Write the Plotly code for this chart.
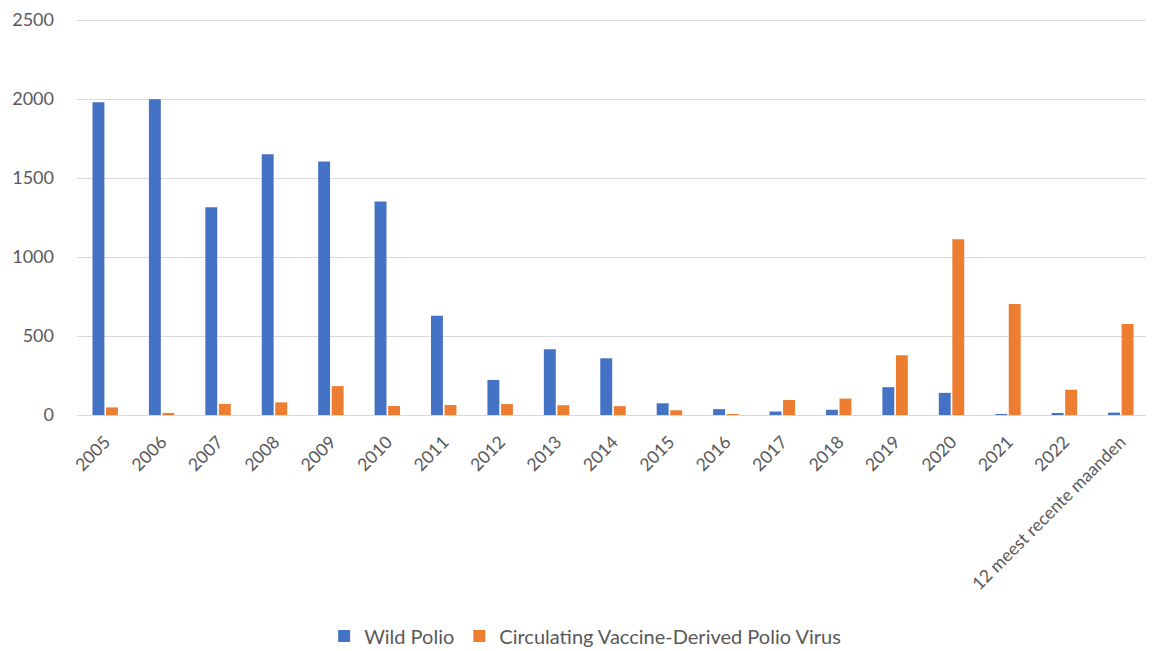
import plotly.graph_objects as go

categories = ["2005", "2006", "2007", "2008", "2009", "2010", "2011", "2012", "2013",
              "2014", "2015", "2016", "2017", "2018", "2019", "2020", "2021", "2022",
              "12 meest recente maanden"]
wild_polio = [1979, 1998, 1315, 1651, 1604, 1352, 628, 222, 416,
              359, 74, 37, 22, 33, 176, 140, 5, 12, 15]
cvdpv = [48, 13, 70, 80, 183, 57, 63, 69, 62,
         56, 30, 2, 95, 104, 378, 1112, 703, 160, 576]
y_ticks = [0, 500, 1000, 1500, 2000, 2500]

fig = go.Figure()
fig.add_trace(go.Bar(x=categories, y=wild_polio, name="Wild Polio",
                     marker=dict(color="#4472C4", line=dict(width=0))))
fig.add_trace(go.Bar(x=categories, y=cvdpv, name="Circulating Vaccine-Derived Polio Virus",
                     marker=dict(color="#ED7D31", line=dict(width=0))))

# page body has an 8px default margin, so the figure is sized to fit the window
fig.update_layout(
    width=1146, height=643,
    margin=dict(l=69, r=5, t=9, b=236, autoexpand=False),
    paper_bgcolor="white", plot_bgcolor="white",
    barmode="group", bargap=0.52, bargroupgap=0.12,
    font=dict(family="Lato, Open Sans, sans-serif", color="#595959", size=15),
    showlegend=True,
    legend=dict(orientation="h", x=0.474, xanchor="center", y=-0.555, yanchor="middle",
                font=dict(size=20, color="#595959"), itemwidth=30),
    xaxis=dict(tickangle=-45, showgrid=False, showline=True, linecolor="#D9D9D9",
               linewidth=1, tickfont=dict(size=17.5, color="#595959"), ticks="",
               ticklabelstandoff=9, automargin=False),
    yaxis=dict(range=[0, 2519], tickvals=y_ticks, showgrid=True, gridcolor="#D9D9D9",
               gridwidth=1, zeroline=False, showline=False, ticks="",
               tickfont=dict(size=18, color="#595959"), ticklabelstandoff=22,
               automargin=False),
)

fig.write_html("out.html")
